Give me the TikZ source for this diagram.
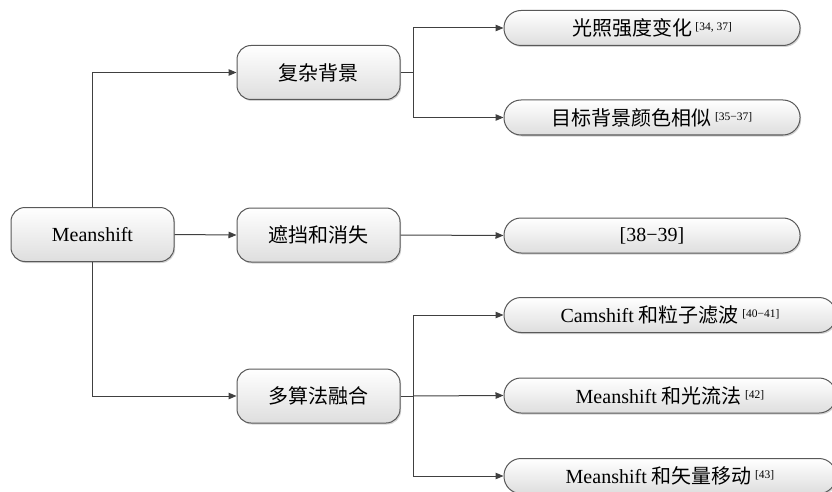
\documentclass[tikz,border=0pt]{standalone}
\usepackage{fontspec}
\setmainfont{Liberation Serif}
\newfontfamily\cjk{Noto Sans CJK SC}
\usetikzlibrary{arrows.meta,shadows}

\newcommand{\citeref}[1]{\,\raisebox{0.55ex}{\fontsize{11.5}{12}\selectfont[#1]}}

\tikzset{
	box/.style={draw=black!65, line width=1pt, top color=white, bottom color=black!13,
		drop shadow={opacity=0.35, shadow xshift=1.2pt, shadow yshift=-1.5pt},
		font=\fontsize{20}{24}\selectfont, inner sep=0pt},
	lbox/.style={box, rounded corners=14pt, minimum width=163pt, minimum height=54pt},
	rbox/.style={box, rounded corners=17pt, minimum height=35pt},
	link/.style={draw=black!75, line width=1pt, -{Triangle[length=8pt,width=6.5pt]}},
	branch/.style={draw=black!75, line width=1pt}
}

\begin{document}
\begin{tikzpicture}[x=1pt,y=-1pt]
	\useasboundingbox (0,0) rectangle (832,492);
	\clip (0,0) rectangle (832,492);

	% Wurzel
	\node[lbox] (ms) at (92.5,234.5) {Meanshift};

	% Mittlere Ebene
	\node[lbox] (bg) at (318.5,72.5) {\cjk 复杂背景};
	\node[lbox] (occ) at (318.5,235) {\cjk 遮挡和消失};
	\node[lbox] (fus) at (318.5,396) {\cjk 多算法融合};

	% Rechte Ebene
	\node[rbox, minimum width=296pt] (light) at (652,28) {{\cjk 光照强度变化}\citeref{34, 37}};
	\node[rbox, minimum width=296pt] (color) at (652,117.5) {{\cjk 目标背景颜色相似}\citeref{35−37}};
	\node[rbox, minimum width=296pt] (lost) at (652,235.5) {[38−39]};
	\node[rbox, minimum width=332pt] (cam) at (670,315) {Camshift {\cjk 和粒子滤波}\citeref{40−41}};
	\node[rbox, minimum width=332pt] (flow) at (670,395.5) {Meanshift {\cjk 和光流法}\citeref{42}};
	\node[rbox, minimum width=332pt] (vec) at (670,476) {Meanshift {\cjk 和矢量移动}\citeref{43}};

	% Verbindungen von der Wurzel
	\draw[link] (ms.north) |- (bg.west);
	\draw[link] (ms.east) -- (occ.west);
	\draw[link] (ms.south) |- (fus.west);

	% Verzweigung oben
	\coordinate (s1) at (413,72.5);
	\draw[branch] (bg.east) -- (s1);
	\draw[link] (s1) |- (light.west);
	\draw[link] (s1) |- (color.west);

	% Mitte
	\draw[link] (occ.east) -- (lost.west);

	% Verzweigung unten
	\coordinate (s2) at (413,396);
	\draw[branch] (fus.east) -- (s2);
	\draw[link] (s2) |- (cam.west);
	\draw[link] (s2) -- (flow.west);
	\draw[link] (s2) |- (vec.west);
\end{tikzpicture}
\end{document}
